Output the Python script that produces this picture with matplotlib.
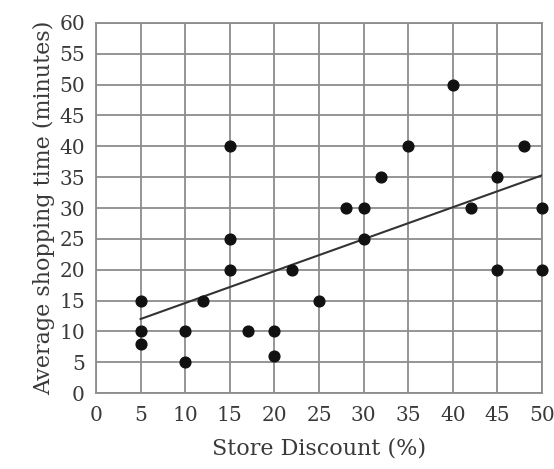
import numpy as np
import matplotlib.pyplot as plt

# store discount (%) vs average shopping time (minutes)
discount = [5, 5, 5, 10, 10, 12, 15, 15, 15, 17, 20, 20, 22, 25,
            28, 30, 30, 32, 35, 40, 42, 45, 45, 48, 50, 50]
shop_time = [15, 10, 8, 10, 5, 15, 40, 25, 20, 10, 10, 6, 20, 15,
             30, 30, 25, 35, 40, 50, 30, 35, 20, 40, 30, 20]

# line of best fit as drawn in the picture
trend_x = [5, 50]
trend_y = [12, 35.3]

x_ticks = np.arange(0, 51, 5)
y_ticks = np.arange(0, 61, 5)

plt.rcParams['font.family'] = ['DejaVu Serif']

fig = plt.figure(figsize=(5.54, 4.69), dpi=100)
ax = fig.add_axes([96 / 554, 76 / 469, 446 / 554, 370 / 469])

ax.set_xlim(0, 50)
ax.set_ylim(0, 60)
ax.set_xticks(x_ticks)
ax.set_yticks(y_ticks)
ax.grid(True, color='#8c8c8c', linewidth=1.3)
ax.set_axisbelow(True)
for s in ax.spines.values():
    s.set_color('#8c8c8c')
    s.set_linewidth(1.3)
ax.tick_params(length=0, labelsize=14.5, colors='#3a3a3a')
ax.tick_params(axis='y', pad=8)
ax.tick_params(axis='x', pad=9)

ax.plot(trend_x, trend_y, color='#333333', linewidth=1.5, zorder=3)
ax.scatter(discount, shop_time, s=60, color='#111111', zorder=4,
           clip_on=False)

ax.set_xlabel('Store Discount (%)', fontsize=16, color='#3a3a3a', labelpad=9)
ax.set_ylabel('Average shopping time (minutes)', fontsize=16,
              color='#3a3a3a', labelpad=3)

fig.savefig('out.png', dpi=100)
